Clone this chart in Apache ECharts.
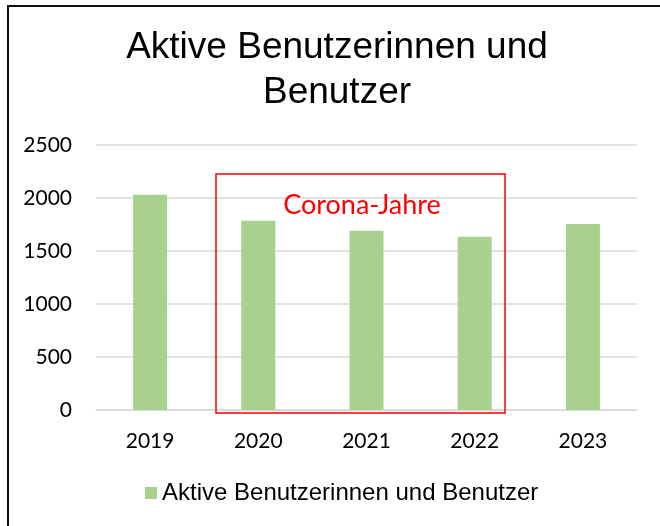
<!DOCTYPE html>
<html>
<head>
<meta charset="utf-8">
<title>Aktive Benutzerinnen und Benutzer</title>
<script src="https://cdn.jsdelivr.net/npm/echarts@6/dist/echarts.min.js"></script>
<style>
  html, body { margin: 0; padding: 0; background: #fff; }
  #chart { width: 660px; height: 526px; }
</style>
</head>
<body>
<div id="chart"></div>
<script>
// chart data
const years = ['2019', '2020', '2021', '2022', '2023']
const activeUsers = [2030, 1785, 1690, 1635, 1755]
const seriesName = 'Aktive Benutzerinnen und Benutzer'
const yTicks = { min: 0, max: 2500, interval: 500 }
const highlightLabel = 'Corona-Jahre'

const chart = echarts.init(document.getElementById('chart'))

const option = {
  animation: false,
  title: {
    text: 'Aktive Benutzerinnen und\nBenutzer',
    left: 337,
    textAlign: 'center',
    top: 25,
    padding: 0,
    textStyle: {
      fontFamily: 'Liberation Sans',
      fontSize: 37,
      fontWeight: 'normal',
      lineHeight: 45,
      color: '#000',
    },
  },
  legend: {
    data: [seriesName],
    left: 145,
    top: 481,
    padding: 0,
    icon: 'rect',
    itemWidth: 12,
    itemHeight: 12,
    itemGap: 6,
    textStyle: {
      fontFamily: 'Liberation Sans',
      fontSize: 24,
      color: '#000',
    },
  },
  grid: {
    left: 96,
    right: 23,
    top: 145,
    bottom: 116,
  },
  xAxis: {
    type: 'category',
    data: years,
    axisLine: { lineStyle: { color: '#D9D9D9', width: 1.5 } },
    axisTick: { show: false },
    axisLabel: {
      color: '#000',
      fontFamily: 'Lato',
      fontSize: 21,
      margin: 21,
    },
  },
  yAxis: {
    type: 'value',
    min: yTicks.min,
    max: yTicks.max,
    interval: yTicks.interval,
    axisLine: { show: false },
    axisTick: { show: false },
    splitLine: { lineStyle: { color: '#D9D9D9', width: 1.5 } },
    axisLabel: {
      color: '#000',
      fontFamily: 'Lato',
      fontSize: 21,
      margin: 24,
      formatter: (v) => String(v),
    },
  },
  series: [
    {
      name: seriesName,
      type: 'bar',
      data: activeUsers,
      barWidth: 34,
      itemStyle: { color: '#A9D18E' },
    },
  ],
  graphic: [
    // outer frame (only top and left edges are visible)
    {
      type: 'rect',
      shape: { x: 8, y: 6, width: 700, height: 600 },
      style: { fill: 'none', stroke: '#111', lineWidth: 2 },
      silent: true,
    },
    // highlight box
    {
      type: 'rect',
      shape: { x: 216, y: 174, width: 289, height: 239 },
      style: { fill: 'none', stroke: '#FF0000', lineWidth: 1.5 },
      silent: true,
      z: 10,
    },
    {
      type: 'text',
      x: 362,
      y: 205,
      style: {
        text: highlightLabel,
        fill: '#FF0000',
        font: '27px Lato',
        align: 'center',
        verticalAlign: 'middle',
      },
      silent: true,
      z: 10,
    },
  ],
}

chart.setOption(option)
</script>
</body>
</html>
